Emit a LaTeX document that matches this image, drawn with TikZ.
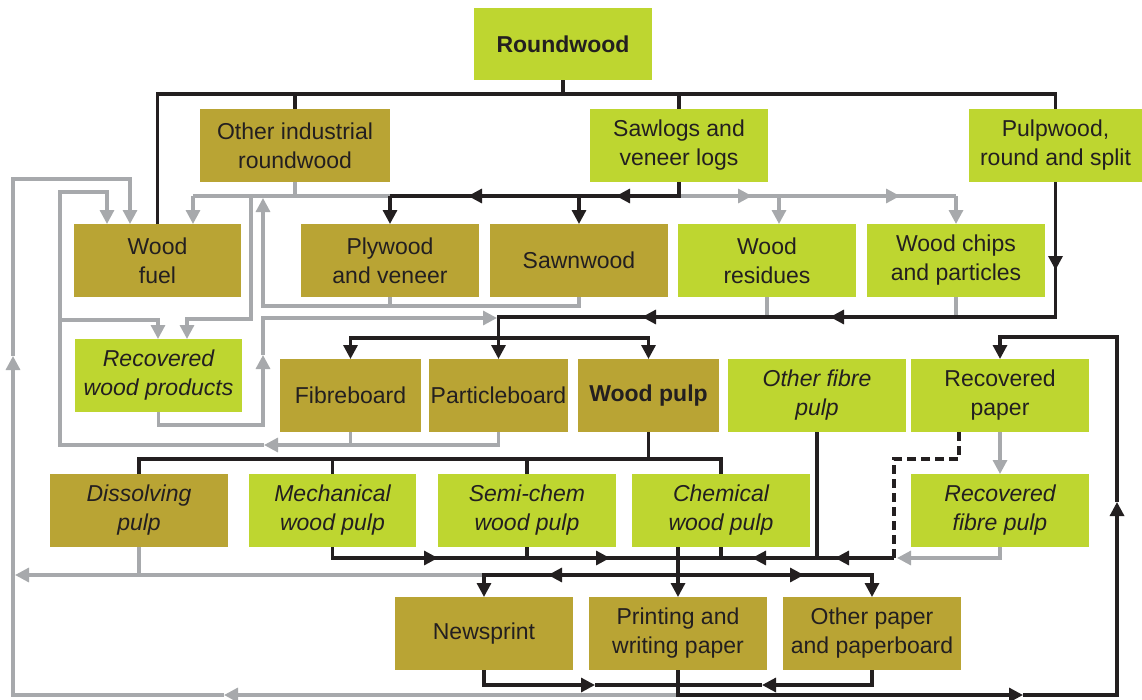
\documentclass[tikz,border=0pt]{standalone}
\usepackage{fontspec}
\setmainfont{Liberation Sans}
\usetikzlibrary{arrows.meta}
\definecolor{olivebox}{HTML}{B9A434}
\definecolor{limebox}{HTML}{BED630}
\definecolor{ink}{HTML}{231F20}
\definecolor{flowgray}{HTML}{A7A9AC}

\tikzset{
  base/.style={inner sep=0pt, outer sep=0pt, align=center, text=ink,
    font=\fontsize{23}{29}\selectfont},
  olive/.style={base, fill=olivebox},
  lime/.style={base, fill=limebox},
  it/.style={font=\fontsize{23}{29}\selectfont\itshape},
  bf/.style={font=\fontsize{23}{29}\selectfont\bfseries},
  blk/.style={draw=ink, line width=3.2pt},
  gry/.style={draw=flowgray, line width=3.2pt},
  tip/.style={-{Triangle[length=14pt,width=14pt]}},
}

% box from its corners: style, name, x1, y1, x2, y2, text
\newcommand\mkbox[7]{%
  \node[#1, minimum width={(#5-#3)*1pt}, minimum height={(#6-#4)*1pt}]
    (#2) at ({(#3+#5)/2},{(#4+#6)/2}) {#7};}

\begin{document}
\begin{tikzpicture}[x=1pt, y=-1pt]
\useasboundingbox (0,0) rectangle (1142,699);
\fill[white] (0,0) rectangle (1142,699);

% ---- boxes ----
\mkbox{lime,bf}{rw}{474}{8}{652}{80}{Roundwood}
\mkbox{olive}{oir}{200}{109}{390}{182}{Other industrial\\roundwood}
\mkbox{lime}{saw}{590}{109}{768}{182}{Sawlogs and\\veneer logs}
\mkbox{lime}{pw}{969}{109}{1142}{182}{Pulpwood,\\round and split}
\mkbox{olive}{wf}{74}{224}{241}{297}{Wood\\fuel}
\mkbox{olive}{ply}{301}{224}{479}{297}{Plywood\\and veneer}
\mkbox{olive}{sn}{490}{224}{668}{297}{Sawnwood}
\mkbox{lime}{wr}{678}{224}{856}{297}{Wood\\residues}
\mkbox{lime}{wc}{867}{224}{1045}{297}{Wood chips\\and particles}
\mkbox{lime,it}{rwp}{75}{339}{242}{412}{Recovered\\wood products}
\mkbox{olive}{fb}{280}{359}{421}{432}{Fibreboard}
\mkbox{olive}{pb}{429}{359}{568}{432}{Particleboard}
\mkbox{olive,bf}{wp}{578}{359}{719}{432}{Wood pulp}
\mkbox{lime,it}{ofp}{728}{359}{906}{432}{Other fibre\\pulp}
\mkbox{lime}{rp}{911}{359}{1089}{432}{Recovered\\paper}
\mkbox{olive,it}{dp}{50}{474}{228}{547}{Dissolving\\pulp}
\mkbox{lime,it}{mp}{249}{474}{416}{547}{Mechanical\\wood pulp}
\mkbox{lime,it}{scp}{438}{474}{616}{547}{Semi-chem\\wood pulp}
\mkbox{lime,it}{cp}{632}{474}{810}{547}{Chemical\\wood pulp}
\mkbox{lime,it}{rfp}{911}{474}{1089}{547}{Recovered\\fibre pulp}
\mkbox{olive}{np}{395}{597}{573}{670}{Newsprint}
\mkbox{olive}{pwp}{589}{597}{767}{670}{Printing and\\writing paper}
\mkbox{olive}{op}{783}{597}{961}{670}{Other paper\\and paperboard}

% ---- grey flows (residues, recovered material, fuel) ----
% other industrial roundwood and sawlog by-products
\draw[gry] (oir.south) -- (oir.south |- 0,196);
\draw[gry] (193,196) -- (wc.north |- 0,196);
\draw[gry,tip] (193,196) -- (wf.north -| 193,0);
\draw[gry,tip] (779,196) -- (wr.north -| 779,0);
\draw[gry,tip] (wc.north |- 0,196) -- (wc.north);
\draw[gry,tip] (733,196) -- (752,196);
\draw[gry,tip] (881,196) -- (900,196);
% plywood and sawnwood residues
\draw[gry] (ply.south) -- (ply.south |- 0,306);
\draw[gry,tip] (sn.south) |- (263,306) -- (263,198);
% residues to recovered wood products
\draw[gry,tip] (251,196) |- (187,319) -- (rwp.north -| 187,0);
% recovered wood products back to boards
\draw[gry,tip] (rwp.south) |- (263,425) -- (263,355);
\draw[gry,tip] (263,355) -- (263,318) -- (497,318);
% board residues to fuel and recovered wood
\draw[gry] (fb.south) -- (fb.south |- 0,445);
\draw[gry,tip] (pb.south) |- (264,445);
\draw[gry,tip] (264,445) -| (60,192) -| (wf.north -| 107,0);
\draw[gry,tip] (60,320) -| (rwp.north -| 158,0);
% wood residues and chips to pulp
\draw[gry] (wr.south) -- (wr.south |- 0,317);
\draw[gry] (wc.south) -- (wc.south |- 0,317);
% dissolving pulp and paper back to fuel
\draw[gry] (dp.south) -- (dp.south |- 0,575);
\draw[gry,tip] (484,575) -- (15,575);
\draw[gry,tip] (pwp.south |- 0,695) -- (224,695);
\draw[gry,tip] (224,695) -| (13,356);
\draw[gry,tip] (13,356) |- (130,179) -- (wf.north -| 130,0);
% recovered paper to recovered fibre pulp
\draw[gry,tip] (rp.south) -- (rfp.north);
\draw[gry,tip] (rfp.south) |- (897,558);

% ---- black flows (main products) ----
% roundwood split
\draw[blk] (rw.south) -- (rw.south |- 0,94);
\draw[blk] (wf.north) |- (pw.north |- 0,94) -- (pw.north);
\draw[blk] (oir.north) -- (oir.north |- 0,94);
\draw[blk] (saw.north) -- (saw.north |- 0,94);
% sawlogs to plywood and sawnwood
\draw[blk] (saw.south) |- (ply.north |- 0,196);
\draw[blk,tip] (ply.north |- 0,196) -- (ply.north);
\draw[blk,tip] (sn.north |- 0,196) -- (sn.north);
\draw[blk,tip] (634,196) -- (616,196);
\draw[blk,tip] (486,196) -- (468,196);
% pulpwood to boards and pulp
\draw[blk,tip] (pw.south) -- (pw.south |- 0,270);
\draw[blk,tip] (pw.south |- 0,265) |- (pb.north |- 0,317) -- (pb.north);
\draw[blk,tip] (849,317) -- (830,317);
\draw[blk,tip] (661,317) -- (642,317);
\draw[blk,tip] (pb.north |- 0,338) -| (fb.north);
\draw[blk,tip] (pb.north |- 0,338) -| (wp.north);
% wood pulp grades
\draw[blk] (wp.south) -- (wp.south |- 0,459);
\draw[blk] (dp.north) |- (cp.north |- 0,459) -- (cp.north);
\draw[blk] (mp.north) -- (mp.north |- 0,459);
\draw[blk] (scp.north) -- (scp.north |- 0,459);
% pulp collection
\draw[blk] (mp.south) |- (894,558);
\draw[blk] (scp.south) -- (scp.south |- 0,558);
\draw[blk] (cp.south) -- (cp.south |- 0,558);
\draw[blk] (ofp.south) -- (ofp.south |- 0,558);
\draw[blk,tip] (cp.south -| pwp.north) -- (pwp.north);
\draw[blk,tip] (420,558) -- (438,558);
\draw[blk,tip] (592,558) -- (610,558);
\draw[blk,tip] (770,558) -- (752,558);
\draw[blk,tip] (853,558) -- (835,558);
% pulp to paper grades
\draw[blk,tip] (pwp.north |- 0,575) -| (np.north);
\draw[blk,tip] (pwp.north |- 0,575) -| (op.north);
\draw[blk,tip] (566,575) -- (548,575);
\draw[blk,tip] (786,575) -- (804,575);
% paper to recovered paper
\draw[blk,tip] (np.south) |- (595,685);
\draw[blk] (595,685) -- (pwp.south |- 0,685);
\draw[blk,tip] (op.south) |- (762,685);
\draw[blk] (762,685) -- (pwp.south |- 0,685);
\draw[blk,tip] (pwp.south) |- (1023,695);
\draw[blk,tip] (1023,695) -| (1117,502);
\draw[blk,tip] (1117,502) |- (rp.north |- 0,337) -- (rp.north);
% recovered paper used directly
\draw[blk, dash pattern=on 9pt off 5pt] (rp.south -| 959,0) |- (894,459) -- (894,558);
\end{tikzpicture}
\end{document}
